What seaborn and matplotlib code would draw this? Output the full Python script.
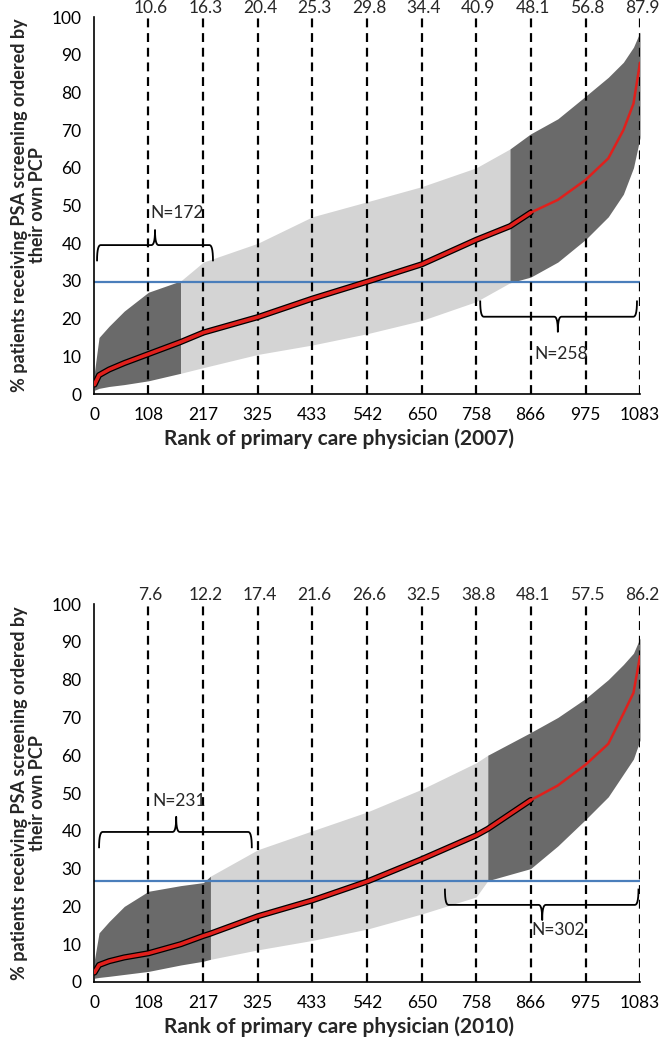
import numpy as np
import pandas as pd
import matplotlib
matplotlib.use("Agg")
import matplotlib.pyplot as plt
import seaborn as sns

# ---------------- data ----------------
x_ticks = [0, 108, 217, 325, 433, 542, 650, 758, 866, 975, 1083]

# 2007
ranks_2007 = [1, 10, 30, 60, 108, 172, 217, 325, 433, 542, 650, 758, 825, 866, 920, 975, 1020, 1050, 1070, 1083]
pct_2007 = [2.5, 5.0, 6.5, 8.2, 10.6, 13.8, 16.3, 20.4, 25.3, 29.8, 34.4, 40.9, 44.5, 48.1, 51.5, 56.8, 62.5, 70.0, 77.0, 87.9]
upper_2007 = [6, 15, 18, 22, 27, 30, 35, 40, 47, 51, 55, 60, 65, 69, 73, 79, 84, 88, 92, 96]
lower_2007 = [1, 1.5, 2, 2.5, 3.5, 5.5, 7, 10.5, 13, 16, 19.5, 24.5, 29.5, 31, 35, 41, 47, 53, 60, 68]
decile_labels_2007 = ["10.6", "16.3", "20.4", "25.3", "29.8", "34.4", "40.9", "48.1", "56.8", "87.9"]
mean_2007 = 29.7
sig_low_end_2007 = 172
sig_high_start_2007 = 825
n_low_2007 = "N=172"
n_high_2007 = "N=258"

# 2010
ranks_2010 = [1, 10, 30, 60, 108, 172, 217, 231, 325, 433, 542, 650, 758, 781, 866, 920, 975, 1020, 1050, 1070, 1083]
pct_2010 = [2.5, 4.5, 5.5, 6.5, 7.6, 10.0, 12.2, 12.8, 17.4, 21.6, 26.6, 32.5, 38.8, 40.5, 48.1, 52.0, 57.5, 63.0, 71.0, 76.5, 86.2]
upper_2010 = [6, 13, 16, 20, 24, 25.5, 26.3, 28, 35, 40, 45, 51, 58, 60, 66, 70, 75, 80, 84, 87, 91]
lower_2010 = [1, 1.2, 1.5, 2, 2.8, 4.5, 5.5, 6, 8.5, 11, 14, 18, 22.5, 26.8, 30, 36, 43, 49, 55, 59, 64]
decile_labels_2010 = ["7.6", "12.2", "17.4", "21.6", "26.6", "32.5", "38.8", "48.1", "57.5", "86.2"]
mean_2010 = 26.6
sig_low_end_2010 = 231
sig_high_start_2010 = 781
n_low_2010 = "N=231"
n_high_2010 = "N=302"

# brace annotations: (x_start, x_end, x_tip, y_level)
brace_low_2007 = (6, 236, 121, 39.5)
brace_high_2007 = (766, 1077, 920, 20.5)
brace_low_2010 = (10, 313, 163, 39.7)
brace_high_2010 = (696, 1080, 889, 20.4)
label_low_2007 = (165, 48.0)
label_high_2007 = (926, 10.5)
label_low_2010 = (169, 48.0)
label_high_2010 = (920, 13.8)

outline_until = 866

# ---------------- style ----------------
sns.set_theme(style="white")
plt.rcParams['font.family'] = ['Lato', 'DejaVu Sans']

DARK = "#6a6a6a"
LIGHT = "#d4d4d4"
RED = "#e0201c"
BLUE = "#4a7ebb"
TXT = 12.5


def brace(ax, x0, x1, xt, y, up=True):
    s = 1 if up else -1
    end = 4.3
    tip = 4.0
    dx = 7
    xs, ys = [], []

    def q(p0, p1, p2, n=8):
        t = np.linspace(0, 1, n)
        bx = (1 - t) ** 2 * p0[0] + 2 * (1 - t) * t * p1[0] + t ** 2 * p2[0]
        by = (1 - t) ** 2 * p0[1] + 2 * (1 - t) * t * p1[1] + t ** 2 * p2[1]
        xs.extend(bx); ys.extend(by)

    q((x0, y - s * end), (x0, y), (x0 + dx, y))
    q((xt - dx, y), (xt, y), (xt, y + s * tip))
    q((xt, y + s * tip), (xt, y), (xt + dx, y))
    q((x1 - dx, y), (x1, y), (x1, y - s * end))
    ax.plot(xs, ys, color="black", lw=1.3, solid_capstyle="butt", zorder=6)


def panel(ax, ranks, pct, lo, hi, low_end, high_start, mean, dlabels, year,
          b_low, b_high, l_low, l_high, n_low, n_high):
    df = pd.DataFrame({"rank": ranks, "pct": pct, "lo": lo, "hi": hi})
    r = df["rank"].to_numpy()
    segs = [(r <= low_end, DARK), ((r >= low_end) & (r <= high_start), LIGHT), (r >= high_start, DARK)]
    for m, c in segs:
        ax.fill_between(r[m], df["lo"][m], df["hi"][m], color=c, lw=0, zorder=1)
    ax.plot([0, x_ticks[-1]], [mean, mean], color=BLUE, lw=1.6, zorder=2)
    ax.vlines(x_ticks[1:], 0, 100, colors="black", linestyles=(0, (4, 2.6)), lw=1.6, zorder=3)
    sub = df[df["rank"] <= outline_until]
    sns.lineplot(data=sub, x="rank", y="pct", color="black", lw=4.4, ax=ax, zorder=4)
    sns.lineplot(data=sub, x="rank", y="pct", color=RED, lw=2.6, ax=ax, zorder=5)
    sns.lineplot(data=df[df["rank"] >= outline_until], x="rank", y="pct", color=RED, lw=1.8, ax=ax, zorder=5)

    for xv, lab in zip(x_ticks[1:], dlabels):
        ax.text(xv + 4, 100.3, lab, ha="center", va="bottom", fontsize=TXT, clip_on=False)

    brace(ax, *b_low, up=True)
    brace(ax, *b_high, up=False)
    ax.text(l_low[0], l_low[1], n_low, ha="center", va="center", fontsize=TXT)
    ax.text(l_high[0], l_high[1], n_high, ha="center", va="center", fontsize=TXT)

    ax.set_xlim(0, x_ticks[-1])
    ax.set_ylim(0, 100)
    ax.set_xticks(x_ticks)
    ax.set_yticks(range(0, 101, 10))
    for sp in ["top", "right"]:
        ax.spines[sp].set_visible(False)
    for sp in ["left", "bottom"]:
        ax.spines[sp].set_color("black")
        ax.spines[sp].set_linewidth(1.2)
    ax.tick_params(axis="x", direction="inout", length=7, width=1.2, pad=6, labelsize=TXT, colors="black")
    ax.tick_params(axis="y", direction="out", length=5, width=1.2, pad=4, labelsize=TXT, colors="black")
    ax.set_xlabel(f"Rank of primary care physician ({year})", fontsize=15, fontweight="bold")
    ax.set_ylabel("% patients receiving PSA screening ordered by\ntheir own PCP", fontsize=13,
                  fontweight="bold", linespacing=1.05)
    ax.xaxis.set_label_coords(0.449, -0.092)
    ax.yaxis.set_label_coords(-0.088, 0.5)
    ax.set_facecolor("white")


fig = plt.figure(figsize=(6.62, 10.44), dpi=100)
ax1 = fig.add_axes([0.142, 0.6226, 0.8248, 0.3611])
ax2 = fig.add_axes([0.142, 0.0594, 0.8248, 0.362])

panel(ax1, ranks_2007, pct_2007, lower_2007, upper_2007, sig_low_end_2007, sig_high_start_2007,
      mean_2007, decile_labels_2007, 2007, brace_low_2007, brace_high_2007,
      label_low_2007, label_high_2007, n_low_2007, n_high_2007)
panel(ax2, ranks_2010, pct_2010, lower_2010, upper_2010, sig_low_end_2010, sig_high_start_2010,
      mean_2010, decile_labels_2010, 2010, brace_low_2010, brace_high_2010,
      label_low_2010, label_high_2010, n_low_2010, n_high_2010)

fig.savefig("out.png", dpi=100)
